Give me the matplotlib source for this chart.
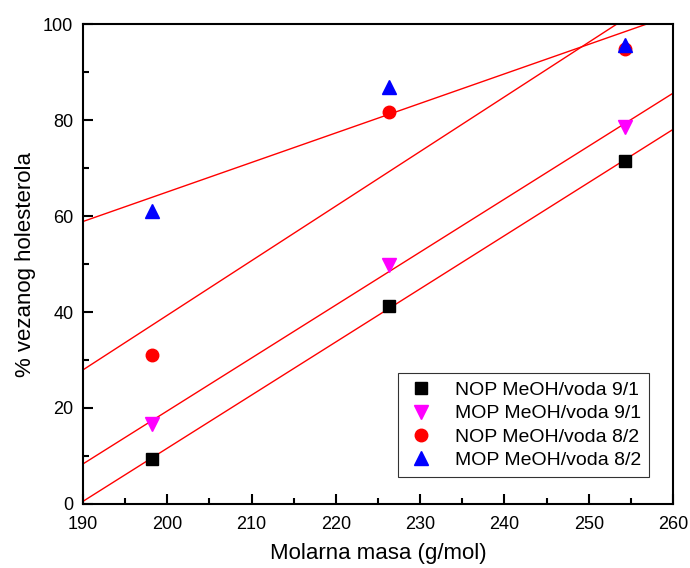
import numpy as np
import matplotlib
matplotlib.use("Agg")
import matplotlib.pyplot as plt
from matplotlib.ticker import MultipleLocator

plt.rcParams["font.family"] = ["Liberation Sans", "DejaVu Sans"]

# molar masses (g/mol)
masa = [198.2, 226.3, 254.3]
nop_91 = [9.4, 41.2, 71.5]
mop_91 = [16.7, 49.8, 78.6]
nop_82 = [31.1, 81.6, 94.9]
mop_82 = [61.1, 86.8, 95.6]
labels = ["NOP MeOH/voda 9/1", "MOP MeOH/voda 9/1",
          "NOP MeOH/voda 8/2", "MOP MeOH/voda 8/2"]

fig = plt.figure(figsize=(6.9, 5.68), dpi=100)
ax = fig.add_axes([0.1203, 0.1127, 0.8551, 0.845])

series = [(nop_91, "s", "black", 8.5), (mop_91, "v", "magenta", 10),
          (nop_82, "o", "red", 9), (mop_82, "^", "blue", 10)]
xs = np.array([185, 265])
for (ys, m, c, ms), lab in zip(series, labels):
    k, b = np.polyfit(masa, ys, 1)
    ax.plot(xs, k * xs + b, color="red", lw=1)
for (ys, m, c, ms), lab in zip(series, labels):
    ax.plot(masa, ys, ls="none", marker=m, color=c, ms=ms, label=lab, zorder=3)

ax.set_xlim(190, 260)
ax.set_ylim(0, 100)
ax.xaxis.set_major_locator(MultipleLocator(10))
ax.xaxis.set_minor_locator(MultipleLocator(5))
ax.yaxis.set_major_locator(MultipleLocator(20))
ax.yaxis.set_minor_locator(MultipleLocator(10))
ax.tick_params(which="both", direction="in", top=False, right=False, labelsize=13, width=1.5)
ax.tick_params(which="major", length=7)
ax.tick_params(which="minor", length=4)
ax.tick_params(axis="x", pad=9)
ax.tick_params(axis="y", pad=7)
for s in ax.spines.values():
    s.set_linewidth(1.5)

ax.set_xlabel("Molarna masa (g/mol)", fontsize=16, labelpad=7)
ax.set_ylabel("% vezanog holesterola", fontsize=16, labelpad=5)

leg = ax.legend(loc="lower right", bbox_to_anchor=(0.975, 0.036), fontsize=14,
                fancybox=False, edgecolor="black", handletextpad=0.9,
                labelspacing=0.3, borderpad=0.4, handlelength=1.6)
leg.get_frame().set_linewidth(0.8)

fig.savefig("out.png", dpi=100)
